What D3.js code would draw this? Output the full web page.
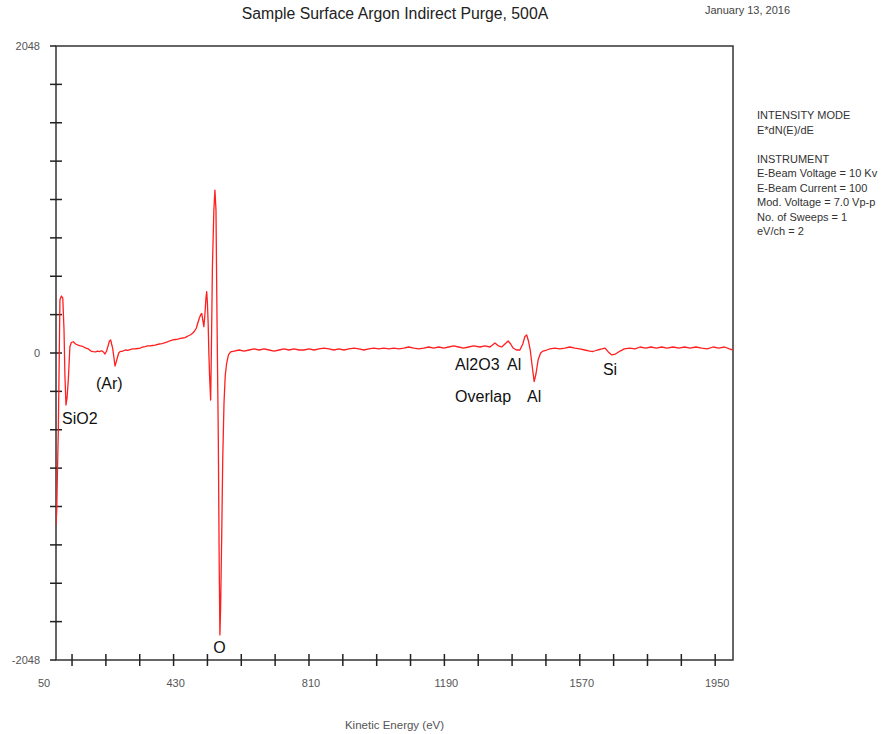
<!DOCTYPE html>
<html>
<head>
<meta charset="utf-8">
<script src="https://d3js.org/d3.v7.min.js"></script>
<style>
  body { margin: 0; background: #fff; }
  text { font-family: Arial, "Liberation Sans", sans-serif; }
</style>
</head>
<body>
<div id="chart"></div>
<script>
// spectrum (eV / E*dN(E)/dE)
var energy = [
  100, 102, 104, 106.5, 109, 111, 115, 119, 122.5, 125,
  128, 131, 134.5, 139, 143, 148.5, 155, 162, 169, 176.6,
  184, 191, 198, 204.7, 211, 217, 222, 228, 233, 237.5,
  242, 246.8, 250, 253.5, 256, 259, 262, 265.6, 269, 272,
  276, 279.6, 287, 294, 301, 308, 315, 322, 329, 336,
  343, 350, 357, 364, 371, 378, 390, 397, 404, 411,
  418, 428, 435, 442, 449, 456, 462, 467, 472, 478,
  484, 489, 494, 498, 502, 506, 509, 512, 515, 518,
  521, 523, 525, 527, 529, 531, 534, 536, 539, 543,
  546, 549, 552, 555.5, 558, 560, 562, 565, 568, 571.5,
  575, 579, 584, 590, 600, 614, 628, 642, 656, 670,
  684, 698, 712, 726, 740, 754, 768, 782, 796, 810,
  824, 838, 852, 866, 880, 894, 908, 922, 936, 950,
  964, 978, 992, 1006, 1020, 1034, 1048, 1062, 1076, 1090,
  1104, 1118, 1132, 1146, 1160, 1174, 1188, 1202, 1216, 1230,
  1244, 1258, 1272, 1290, 1303, 1318, 1332, 1342, 1351, 1360,
  1369, 1376, 1383, 1392, 1402, 1410, 1416, 1421, 1426, 1431,
  1436, 1442, 1447, 1453, 1460, 1467, 1477, 1486, 1500, 1514,
  1528, 1542, 1556, 1570, 1584, 1598, 1607, 1620, 1632, 1641,
  1650, 1660, 1670, 1683, 1695, 1710, 1725, 1739, 1755, 1770,
  1785, 1800, 1815, 1832, 1848, 1864, 1880, 1896, 1912, 1928,
  1944, 1960, 1976, 1990, 2000
];
var intensity = [
  -1150, -1050, -800, -514, -50, 354, 380, 367, 153, -150,
  -347, -300, -180, 42, 70, 75, 60, 53, 47, 42,
  33, 27, 13, 9, 7, 13, 9, 15, 7, -7,
  13, 53, 80, 87, 60, 33, -20, -87, -60, -33,
  0, 9, 13, 20, 17, 23, 27, 27, 30, 33,
  40, 43, 47, 47, 50, 53, 60, 63, 67, 73,
  80, 87, 90, 93, 97, 100, 103, 109, 115, 122,
  133, 147, 167, 200, 230, 255, 264, 220, 176, 260,
  370, 409, 330, 200, 0, -150, -314, 0, 573, 950,
  1087, 953, 200, -560, -1400, -1881, -1700, -1227, -700, -333,
  -150, -67, -13, 7, 13, 20, 13, 20, 27, 20,
  27, 20, 13, 20, 27, 20, 27, 20, 20, 27,
  20, 27, 33, 27, 20, 27, 20, 27, 33, 27,
  20, 27, 33, 27, 33, 27, 33, 27, 33, 40,
  33, 27, 33, 40, 33, 40, 33, 40, 47, 40,
  33, 40, 47, 40, 47, 40, 67, 47, 40, 60,
  80, 60, 33, 20, 20, 60, 110, 120, 80, 20,
  -80, -191, -140, -47, 0, 13, 20, 27, 33, 27,
  33, 40, 33, 27, 20, 13, 10, 20, 27, 33,
  7, -13, -7, 13, 27, 33, 27, 40, 33, 40,
  33, 40, 33, 40, 33, 40, 33, 40, 33, 27,
  40, 33, 40, 27, 20
];

var xMinorTicks = d3.range(145, 1951, 95);
var xTickLabels = [50, 430, 810, 1190, 1570, 1950];
var yTicks = d3.range(-2048, 2049, 256);
var yTickLabels = [2048, 0, -2048];

// peak labels, anchored in data coordinates (eV, intensity)
var peakNames = ["SiO2", "(Ar)", "O", "Al2O3", "Al", "Overlap", "Al", "Si"];
var peakEv    = [117, 212, 541, 1220, 1366, 1220, 1422, 1635];
var peakVal   = [-474, -240, -2001, -113, -113, -325, -325, -147];

var infoLines = ["INTENSITY MODE", "E*dN(E)/dE", "", "INSTRUMENT",
  "E-Beam Voltage = 10 Kv", "E-Beam Current = 100", "Mod. Voltage = 7.0 Vp-p",
  "No. of Sweeps = 1", "eV/ch = 2"];

var fullwidth = 886;
var fullheight = 734;
var margin = {top: 46, right: 153, bottom: 74, left: 56};
var width = fullwidth - margin.left - margin.right;
var height = fullheight - margin.top - margin.bottom;

var vis = d3.select("#chart").append("svg")
    .attr("width", fullwidth)
    .attr("height", fullheight);

vis.append("text")
    .attr("x", 395)
    .attr("y", 19)
    .attr("text-anchor", "middle")
    .attr("font-size", "15.8px")
    .attr("fill", "#222")
    .text("Sample Surface Argon Indirect Purge, 500A");

vis.append("text")
    .attr("x", 705)
    .attr("y", 14)
    .attr("font-size", "11px")
    .attr("fill", "#444")
    .text("January 13, 2016");

vis.selectAll("text.info")
    .data(infoLines)
    .enter()
    .append("text")
    .attr("class", "info")
    .attr("x", 757)
    .attr("y", function(d, i) { return 119 + i * 14.5; })
    .attr("font-size", "11px")
    .attr("fill", "#333")
    .text(function(d) { return d; });

var svg = vis.append("g")
    .attr("transform", "translate(" + margin.left + "," + margin.top + ")");

var xScale = d3.scaleLinear().domain([100, 2000]).range([0, width]);
var yScale = d3.scaleLinear().domain([-2048, 2048]).range([height, 0]);

// frame
svg.append("rect")
    .attr("width", width)
    .attr("height", height)
    .attr("fill", "none")
    .attr("stroke", "#333")
    .attr("stroke-width", 1.5);

// y ticks cross the left axis
svg.selectAll("line.ytick")
    .data(yTicks)
    .enter()
    .append("line")
    .attr("class", "ytick")
    .attr("x1", -6)
    .attr("x2", function(d) { return Math.abs(d) === 2048 ? 0 : 6; })
    .attr("y1", function(d) { return yScale(d); })
    .attr("y2", function(d) { return yScale(d); })
    .attr("stroke", "#222")
    .attr("stroke-width", 1.5);

svg.selectAll("text.ylab")
    .data(yTickLabels)
    .enter()
    .append("text")
    .attr("class", "ylab")
    .attr("x", -16)
    .attr("y", function(d) { return yScale(d); })
    .attr("dy", "0.35em")
    .attr("text-anchor", "end")
    .attr("font-size", "11px")
    .attr("fill", "#555")
    .text(function(d) { return d; });

svg.selectAll("line.xtick")
    .data(xMinorTicks)
    .enter()
    .append("line")
    .attr("class", "xtick")
    .attr("x1", function(d) { return xScale(d); })
    .attr("x2", function(d) { return xScale(d); })
    .attr("y1", height - 6)
    .attr("y2", height + 6)
    .attr("stroke", "#222")
    .attr("stroke-width", 1.5);

svg.selectAll("text.xlab")
    .data(xTickLabels)
    .enter()
    .append("text")
    .attr("class", "xlab")
    .attr("x", function(d) { return Math.max(xScale(d) + 2, -12); })
    .attr("y", height + 27)
    .attr("text-anchor", "middle")
    .attr("font-size", "11px")
    .attr("fill", "#555")
    .text(function(d) { return d; });

svg.append("text")
    .attr("x", width / 2)
    .attr("y", height + 69)
    .attr("text-anchor", "middle")
    .attr("font-size", "11.5px")
    .attr("fill", "#555")
    .text("Kinetic Energy (eV)");

svg.append("clipPath")
    .attr("id", "clip")
    .append("rect")
    .attr("width", width)
    .attr("height", height);

var points = energy.map(function(e, i) { return {ev: e, val: intensity[i]}; });

var line = d3.line()
    .x(function(d) { return xScale(d.ev); })
    .y(function(d) { return yScale(d.val); });

svg.append("path")
    .datum(points)
    .attr("clip-path", "url(#clip)")
    .attr("d", line)
    .attr("fill", "none")
    .attr("stroke", "#ff1f1f")
    .attr("stroke-width", 1.3)
    .attr("stroke-linejoin", "round");

svg.selectAll("text.peak")
    .data(peakNames)
    .enter()
    .append("text")
    .attr("class", "peak")
    .attr("x", function(d, i) { return xScale(peakEv[i]); })
    .attr("y", function(d, i) { return yScale(peakVal[i]); })
    .attr("font-size", "16px")
    .attr("fill", "#111")
    .text(function(d) { return d; });
</script>
</body>
</html>
